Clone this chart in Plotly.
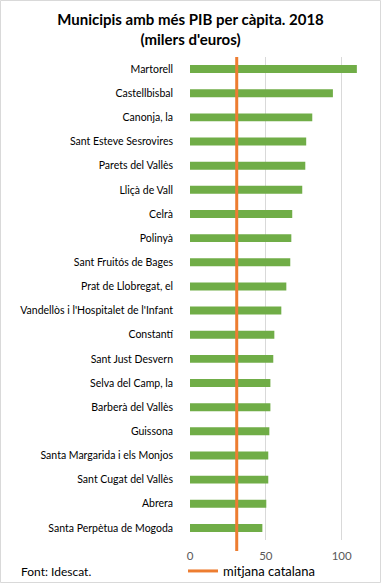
import plotly.graph_objects as go

municipis = [
    "Martorell", "Castellbisbal", "Canonja, la", "Sant Esteve Sesrovires",
    "Parets del Vallès", "Lliçà de Vall", "Celrà", "Polinyà",
    "Sant Fruitós de Bages", "Prat de Llobregat, el",
    "Vandellòs i l'Hospitalet de l'Infant", "Constantí", "Sant Just Desvern",
    "Selva del Camp, la", "Barberà del Vallès", "Guissona",
    "Santa Margarida i els Monjos", "Sant Cugat del Vallès", "Abrera",
    "Santa Perpètua de Mogoda",
]
pib = [110.0, 94.2, 80.6, 76.6, 76.0, 74.0, 67.4, 66.8, 66.1, 63.5,
       60.2, 55.6, 54.9, 53.0, 53.0, 52.3, 51.6, 51.6, 50.3, 47.7]
mitjana_catalana = 30.8
x_ticks = [0, 50, 100]

FONT = "Lato"
GREEN = "#70AD47"
ORANGE = "#ED7D31"

L, R, T, B = 190, 12, 57, 43
W, H = 381, 583
W_PLOT = W - L - R
H_PLOT = H - T - B

fig = go.Figure()
fig.add_trace(go.Bar(
    x=pib, y=municipis, orientation="h",
    marker=dict(color=GREEN, line=dict(width=0)),
    showlegend=False, hoverinfo="x+y",
))

fig.add_shape(
    type="line", xref="x", yref="paper",
    x0=mitjana_catalana, x1=mitjana_catalana, y0=-11 / H_PLOT, y1=1.0,
    line=dict(color=ORANGE, width=3),
    showlegend=True, name="mitjana catalana", layer="above",
)
# outer border
fig.add_shape(
    type="rect", xref="paper", yref="paper",
    x0=(0.5 - L) / W_PLOT, x1=(380.5 - L) / W_PLOT,
    y0=-(B - 0.5) / H_PLOT, y1=1 + (T - 0.5) / H_PLOT,
    line=dict(color="#D9D9D9", width=1), fillcolor="rgba(0,0,0,0)",
)

fig.update_layout(
    width=W, height=H,
    margin=dict(l=L, r=R, t=T, b=B, autoexpand=False),
    paper_bgcolor="white", plot_bgcolor="white",
    font=dict(family=FONT, size=11, color="#000000"),
    bargap=0.67,
    title=dict(
        text="<b>Municipis amb més PIB per càpita. 2018<br>(milers d'euros)</b>",
        x=0.5, xref="container", xanchor="center",
        yref="container", y=1 - 25 / H, yanchor="middle",
        font=dict(family=FONT, size=15, color="#000000"),
    ),
    xaxis=dict(
        range=[0, 118], tickvals=x_ticks, showgrid=True,
        gridcolor="#D9D9D9", gridwidth=1, zeroline=False,
        tickfont=dict(color="#595959", size=11.5), showline=False,
        automargin=False, ticklabelstandoff=7,
    ),
    yaxis=dict(
        autorange="reversed", showgrid=False, ticks="",
        ticklabelstandoff=16, tickfont=dict(color="#000000", size=10.5),
        automargin=False,
    ),
    legend=dict(
        orientation="h", x=(183 - L) / W_PLOT, xanchor="left",
        y=-31 / H_PLOT, yanchor="middle",
        font=dict(size=13, color="#000000"), bgcolor="rgba(0,0,0,0)",
    ),
    annotations=[dict(
        text="Font: Idescat.", xref="paper", yref="paper",
        x=(19 - L) / W_PLOT, y=-31 / H_PLOT, xanchor="left", yanchor="middle",
        showarrow=False, font=dict(size=12, color="#000000"),
    )],
)

fig.write_html(
    "out.html",
    config={"displayModeBar": False},
    post_script="document.body.style.margin='0';document.body.style.overflow='hidden';",
)
